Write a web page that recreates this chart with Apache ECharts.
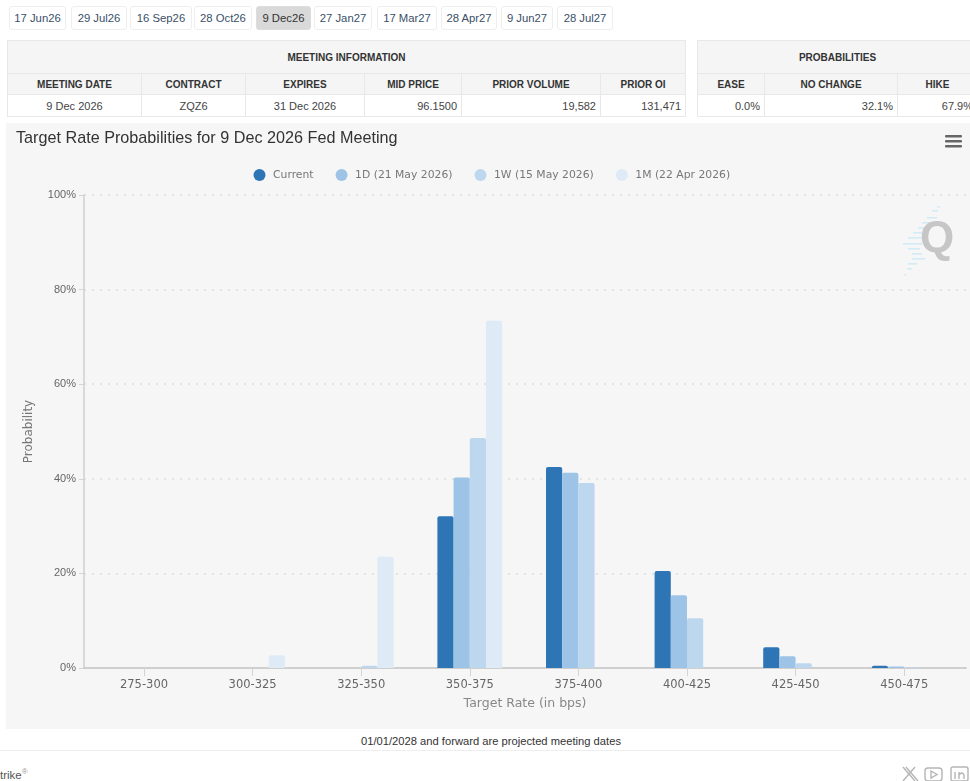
<!DOCTYPE html>
<html><head><meta charset="utf-8">
<script src="https://cdn.jsdelivr.net/npm/echarts@6/dist/echarts.min.js"></script>
<style>
html,body{margin:0;padding:0;width:970px;height:781px;overflow:hidden;background:#fff;font-family:"Liberation Sans",Arial,sans-serif}
#btns a{position:absolute;top:6px;height:24px;line-height:23px;box-sizing:border-box;border:1px solid #eee;border-radius:3px;text-align:center;font-size:11.3px;color:#3a5068;background:#fff}
#btns a.on{background:#d9d9d9;color:#333;border-color:#ddd}
table{position:absolute;top:40px;border-collapse:collapse;table-layout:fixed;font-size:10.5px;color:#333}
td,th{border:1px solid #e8e8e8;padding:0 4px;box-sizing:border-box;overflow:hidden;white-space:nowrap}
th{background:#f5f5f5;font-weight:bold;color:#333;text-align:center;font-size:10px}
td{font-size:11px;background:#fff;color:#444}
.r{text-align:right}.c{text-align:center}
#chart{position:absolute;left:6px;top:123px;width:964px;height:606px}
#note{position:absolute;left:0;width:982px;top:735px;text-align:center;font-size:11.2px;color:#333}
#hr{position:absolute;left:0;width:970px;top:750px;height:1px;background:#eee}
#trike{position:absolute;left:0;top:769px;font-size:11.5px;color:#555}
#trike sup{font-size:8px;color:#999;line-height:0}
#soc{position:absolute;left:900px;top:765px}
</style></head><body>
<div id="btns"></div>
<table id="t1" style="left:7px;width:678px"></table>
<table id="t2" style="left:697px;width:280px"></table>
<div id="chart"></div>
<div id="note">01/01/2028 and forward are projected meeting dates</div>
<div id="hr"></div>
<div id="trike">trike<sup>®</sup></div>
<svg id="soc" width="70" height="16" viewBox="0 0 70 16" fill="none" stroke="#b5b5b5" stroke-width="1.4">
<path d="M3 2 L15 16 M15 2 L3 16 M6 2 L18 16"/>
<rect x="25" y="3" width="17" height="13" rx="3"/><path d="M31 6 L37 9.5 L31 13 Z"/>
<rect x="51" y="2" width="17" height="14" rx="2"/><path d="M55 7 V14 M59 14 V7 M59 10 Q62 6 64 10 V14"/>
</svg>
<script>
const meetings = ["17 Jun26","29 Jul26","16 Sep26","28 Oct26","9 Dec26","27 Jan27","17 Mar27","28 Apr27","9 Jun27","28 Jul27"];
const activeMeeting = "9 Dec26";
const infoHeaders = ["MEETING DATE","CONTRACT","EXPIRES","MID PRICE","PRIOR VOLUME","PRIOR OI"];
const infoValues = ["9 Dec 2026","ZQZ6","31 Dec 2026","96.1500","19,582","131,471"];
const probHeaders = ["EASE","NO CHANGE","HIKE"];
const probValues = ["0.0%","32.1%","67.9%"];

const categories = ["275-300","300-325","325-350","350-375","375-400","400-425","425-450","450-475"];
const current = [0,0,0,32.1,42.5,20.5,4.4,0.5];
const oneDay  = [0,0,0,40.3,41.3,15.4,2.5,0.3];
const oneWeek = [0,0,0.5,48.6,39.1,10.5,1.0,0.1];
const oneMonth= [0,2.7,23.5,73.4,0,0,0,0];
const seriesNames = ["Current","1D (21 May 2026)","1W (15 May 2026)","1M (22 Apr 2026)"];
const seriesColors = ["#2e75b6","#9dc3e6","#bdd7ee","#deebf7"];

/* header widgets */
const btnBox = [[9,57],[71,56],[130,62],[194,58],[256,55],[314,58],[377,60],[441,56],[501,52],[557,56]];
document.getElementById('btns').innerHTML = meetings.map((m,i)=>
  `<a class="${m===activeMeeting?'on':''}" style="left:${btnBox[i][0]}px;width:${btnBox[i][1]}px">${m}</a>`).join('');
const w1=[134,104,119,97,139,85], w2=[67,133,80];
const alignC1=[1,1,1,0,0,0];
function tbl(id,title,heads,vals,ws,al){
  document.getElementById(id).innerHTML =
   `<colgroup>${ws.map(w=>`<col style="width:${w}px">`).join('')}</colgroup>`+
   `<tr style="height:33px"><th colspan="${heads.length}">${title}</th></tr>`+
   `<tr style="height:21px">${heads.map(h=>`<th>${h}</th>`).join('')}</tr>`+
   `<tr style="height:22px">${vals.map((v,i)=>`<td class="${al[i]?'c':'r'}">${v}</td>`).join('')}</tr>`;
}
tbl('t1','MEETING INFORMATION',infoHeaders,infoValues,w1,alignC1);
tbl('t2','PROBABILITIES',probHeaders,probValues,w2,[0,0,0]);

/* chart */
const chart = echarts.init(document.getElementById('chart'),null,{renderer:'canvas'});
const allSeries=[current,oneDay,oneWeek,oneMonth];
const ticks=categories.map((c,i)=>i);
const wmStrokes=[[206,937,940],[210,932,938],[217,927,937],[222,922,930],[227,918,925],[232,913,923],[237,908,922],[243,903,922],[248,908,920],[253,912,922],[258,912,925],[263,908,917],[268,907,912],[274,904,906]];
chart.setOption({
  animation:false,
  backgroundColor:'#f6f6f6',
  title:{text:'Target Rate Probabilities for 9 Dec 2026 Fed Meeting',left:5,top:3,
    textStyle:{fontFamily:'Liberation Sans',fontSize:16.2,fontWeight:'normal',color:'#333'}},
  legend:{left:242.5,top:41,icon:'circle',itemWidth:17,itemHeight:12,itemGap:22,data:seriesNames,
    textStyle:{fontFamily:'DejaVu Sans',fontSize:10.8,color:'#777'}},
  grid:{left:78,top:72,width:882,height:473,containLabel:false},
  xAxis:{type:'value',min:-0.5525,max:7.569,
    name:'Target Rate (in bps)',nameLocation:'middle',nameGap:29,
    nameTextStyle:{fontFamily:'DejaVu Sans',fontSize:12.5,color:'#888'},
    axisLine:{show:true,onZero:false,lineStyle:{color:'#c4c4c4',width:1.5}},
    axisTick:{show:true,length:8,customValues:ticks,lineStyle:{color:'#d4d4d4'}},
    axisLabel:{customValues:ticks,margin:11,fontFamily:'DejaVu Sans',fontSize:11.5,color:'#666',
      formatter:v=>categories[v]},
    splitLine:{show:false}},
  yAxis:{type:'value',min:0,max:100,interval:20,
    name:'Probability',nameLocation:'middle',nameGap:49,
    nameTextStyle:{fontFamily:'DejaVu Sans',fontSize:12,color:'#777'},
    axisLine:{show:true,onZero:false,lineStyle:{color:'#cfcfcf',width:1.5}},
    axisTick:{show:true,length:5,lineStyle:{color:'#d4d4d4'}},
    axisLabel:{margin:8,fontFamily:'Liberation Sans',fontSize:11,color:'#666',formatter:v=>v+'%'},
    splitLine:{show:true,lineStyle:{color:'#dedede',type:[2,6],width:1.5}}},
  series:allSeries.map((vals,i)=>({
    name:seriesNames[i],type:'bar',barWidth:16.2,barGap:'0%',
    itemStyle:{color:seriesColors[i],borderRadius:[2,2,0,0]},
    data:vals.map((v,k)=>[k,v])
  })),
  graphic:{elements:[
    ...wmStrokes.map(s=>({type:'rect',silent:true,x:0,y:0,shape:{x:s[1]-6,y:s[0]-123,width:s[2]-s[1],height:1.6},style:{fill:'#d3ebf7'}})),
    {type:'text',silent:true,x:914,y:95,style:{text:'Q',font:'bold 44px "Liberation Sans"',fill:'#c6c6c6'}},
    {type:'rect',silent:true,x:0,y:0,shape:{x:939,y:12,width:17,height:2.6,r:1},style:{fill:'#666'}},
    {type:'rect',silent:true,x:0,y:0,shape:{x:939,y:17,width:17,height:2.6,r:1},style:{fill:'#666'}},
    {type:'rect',silent:true,x:0,y:0,shape:{x:939,y:22,width:17,height:2.6,r:1},style:{fill:'#666'}}
  ]}
});
</script>
</body></html>
